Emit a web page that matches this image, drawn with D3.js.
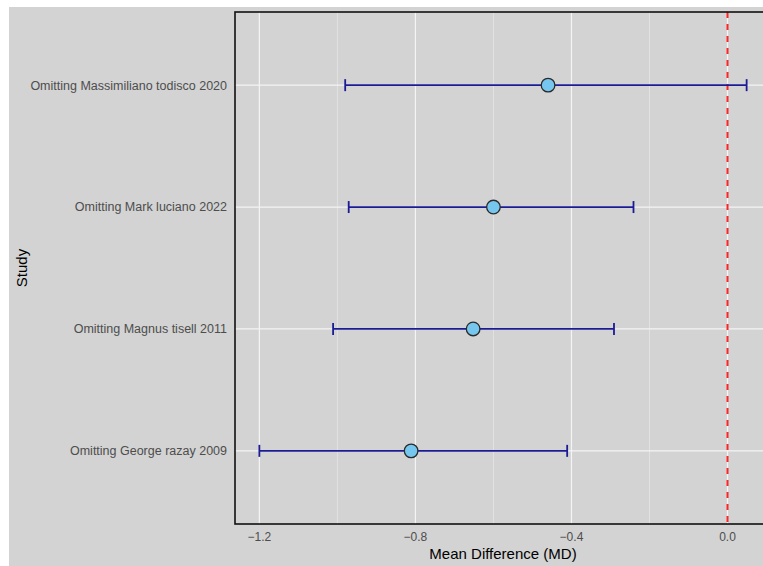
<!DOCTYPE html>
<html><head><meta charset="utf-8">
<script src="https://cdn.jsdelivr.net/npm/d3@7"></script>
<style>body{margin:0;background:#fff;overflow:hidden}svg{display:block}</style>
</head><body>
<svg id="c" width="763" height="566"></svg>
<script>
const studies = ["Omitting Massimiliano todisco 2020","Omitting Mark luciano 2022","Omitting Magnus tisell 2011","Omitting George razay 2009"];
const md    = [-0.46, -0.60, -0.652, -0.811];
const lower = [-0.98, -0.971, -1.011, -1.200];
const upper = [0.049, -0.241, -0.291, -0.411];
const majorTicks = [-1.2, -0.8, -0.4, 0.0];
const minorTicks = [-1.0, -0.6, -0.2];
const tickLabels = ["\u22121.2", "\u22120.8", "\u22120.4", "0.0"];
const refValue = 0;

const svg = d3.select("#c");
const panel = {l:235, t:12, r:771, b:524};

svg.append("rect").attr("x",9).attr("y",7).attr("width",800).attr("height",600).attr("fill","#d3d3d3");

const lo = d3.min(lower), hi = d3.max(upper), ex = (hi-lo)*0.05;
const x = d3.scaleLinear().domain([lo-ex, hi+ex]).range([panel.l, panel.r]);
const y = d3.scalePoint().domain(studies).range([panel.t, panel.b]).padding(0.6);

const g = svg.append("g");
// minor grid
g.selectAll(".minor").data(minorTicks).enter().append("line")
  .attr("x1",d=>x(d)).attr("x2",d=>x(d)).attr("y1",panel.t).attr("y2",panel.b)
  .attr("stroke","#ececec").attr("stroke-width",0.6);
// major grid
g.selectAll(".major").data(majorTicks).enter().append("line")
  .attr("x1",d=>x(d)).attr("x2",d=>x(d)).attr("y1",panel.t).attr("y2",panel.b)
  .attr("stroke","#f4f4f4").attr("stroke-width",1.2);
g.selectAll(".hgrid").data(studies).enter().append("line")
  .attr("x1",panel.l).attr("x2",panel.r).attr("y1",d=>y(d)).attr("y2",d=>y(d))
  .attr("stroke","#f4f4f4").attr("stroke-width",1.2);

// reference line
g.append("line").attr("x1",x(refValue)).attr("x2",x(refValue)).attr("y1",panel.t).attr("y2",panel.b)
  .attr("stroke","#ff2424").attr("stroke-width",2).attr("stroke-dasharray","6,6");

// error bars
const rows = studies.map((s,i)=>({s, m:md[i], lo:lower[i], hi:upper[i]}));
const eb = g.selectAll(".eb").data(rows).enter().append("g");
const ebColor = "#1b1b96", ebW = 1.8;
eb.append("line").attr("x1",d=>x(d.lo)).attr("x2",d=>x(d.hi)).attr("y1",d=>y(d.s)).attr("y2",d=>y(d.s))
  .attr("stroke",ebColor).attr("stroke-width",ebW);
eb.append("line").attr("x1",d=>x(d.lo)).attr("x2",d=>x(d.lo)).attr("y1",d=>y(d.s)-6).attr("y2",d=>y(d.s)+6)
  .attr("stroke",ebColor).attr("stroke-width",ebW);
eb.append("line").attr("x1",d=>x(d.hi)).attr("x2",d=>x(d.hi)).attr("y1",d=>y(d.s)-6).attr("y2",d=>y(d.s)+6)
  .attr("stroke",ebColor).attr("stroke-width",ebW);
eb.append("circle").attr("cx",d=>x(d.m)).attr("cy",d=>y(d.s)).attr("r",6.8)
  .attr("fill","#76c7ef").attr("stroke","#2a2a2a").attr("stroke-width",1.3);

// panel border
svg.append("rect").attr("x",panel.l).attr("y",panel.t).attr("width",panel.r-panel.l).attr("height",panel.b-panel.t)
  .attr("fill","none").attr("stroke","#111").attr("stroke-width",1.6);

const font = "'Liberation Sans', Arial, sans-serif";
// x tick labels
svg.selectAll(".xt").data(majorTicks).enter().append("text")
  .attr("x",d=>x(d)).attr("y",541).attr("text-anchor","middle")
  .attr("font-family",font).attr("font-size",12).attr("fill","#4d4d4d")
  .text((d,i)=>tickLabels[i]);
// y tick labels
svg.selectAll(".yt").data(studies).enter().append("text")
  .attr("x",227).attr("y",d=>y(d)).attr("dy","0.35em").attr("text-anchor","end")
  .attr("font-family",font).attr("font-size",12.5).attr("fill","#4d4d4d")
  .text(d=>d);
// axis titles
svg.append("text").attr("x",(panel.l+panel.r)/2).attr("y",559).attr("text-anchor","middle")
  .attr("font-family",font).attr("font-size",15).attr("fill","#000").text("Mean Difference (MD)");
svg.append("text").attr("transform",`translate(27,${(panel.t+panel.b)/2}) rotate(-90)`).attr("text-anchor","middle")
  .attr("font-family",font).attr("font-size",15).attr("fill","#000").text("Study");
</script>
</body></html>
